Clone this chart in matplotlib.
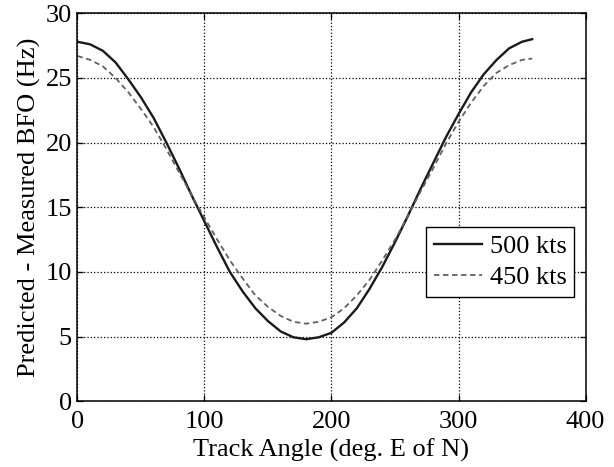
import matplotlib
matplotlib.use('Agg')
import matplotlib.pyplot as plt

# track angle (deg E of N) and BFO residual (Hz)
track_angle = [0, 10, 20, 30, 40, 50, 60, 70, 80, 90, 100, 110, 120, 130, 140, 150, 160, 170, 180,
               190, 200, 210, 220, 230, 240, 250, 260, 270, 280, 290, 300, 310, 320, 330, 340, 350, 358]
bfo_500 = [27.8, 27.6, 27.1, 26.2, 24.9, 23.5, 21.9, 20.0, 18.0, 15.9, 13.9, 11.9, 10.0, 8.5, 7.2, 6.2,
           5.4, 4.95, 4.8, 4.95, 5.3, 6.1, 7.2, 8.7, 10.4, 12.3, 14.3, 16.4, 18.4, 20.4, 22.2, 23.9,
           25.3, 26.4, 27.3, 27.8, 28.0]
bfo_450 = [26.7, 26.4, 25.9, 25.0, 23.9, 22.6, 21.2, 19.5, 17.7, 15.9, 14.2, 12.5, 10.9, 9.5, 8.2, 7.3,
           6.6, 6.15, 6.0, 6.15, 6.5, 7.2, 8.2, 9.4, 10.9, 12.5, 14.3, 16.2, 18.0, 19.9, 21.6, 23.1,
           24.4, 25.4, 26.0, 26.4, 26.5]
series_labels = ['500 kts', '450 kts']

x_ticks = [0, 100, 200, 300, 400]
y_ticks = [0, 5, 10, 15, 20, 25, 30]

plt.rcParams['font.family'] = ['Liberation Serif', 'DejaVu Serif']
plt.rcParams['font.size'] = 19

fig = plt.figure(figsize=(6.14, 4.67), dpi=100)
ax = fig.add_axes([0.1262, 0.1407, 0.8274, 0.8308])

ax.plot(track_angle, bfo_500, color='#1a1a1a', linewidth=1.7, label=series_labels[0])
ax.plot(track_angle, bfo_450, color='#606060', linewidth=1.3, dashes=(3, 2),
        label=series_labels[1])

ax.set_xlim(0, 400)
ax.set_ylim(0, 30)
ax.set_xticks(x_ticks)
ax.set_yticks(y_ticks)
ax.grid(True, linestyle=':', color='black', linewidth=0.9)

ax.tick_params(direction='in', length=4, width=0.9, top=True, right=True)
ax.tick_params(axis='x', pad=7)
ax.tick_params(axis='y', pad=4)
for s in ax.spines.values():
    s.set_linewidth(1.1)

ax.set_xlabel('Track Angle (deg. E of N)', labelpad=4)
ax.set_ylabel('Predicted - Measured BFO (Hz)', labelpad=3)

leg = ax.legend(loc='lower right', bbox_to_anchor=(0.978, 0.268), borderaxespad=0,
                fancybox=False, edgecolor='black', framealpha=1,
                handlelength=1.8, handletextpad=0.3, borderpad=0.3, labelspacing=0.3)
leg.get_frame().set_linewidth(1.0)

plt.savefig('out.png', dpi=100)
